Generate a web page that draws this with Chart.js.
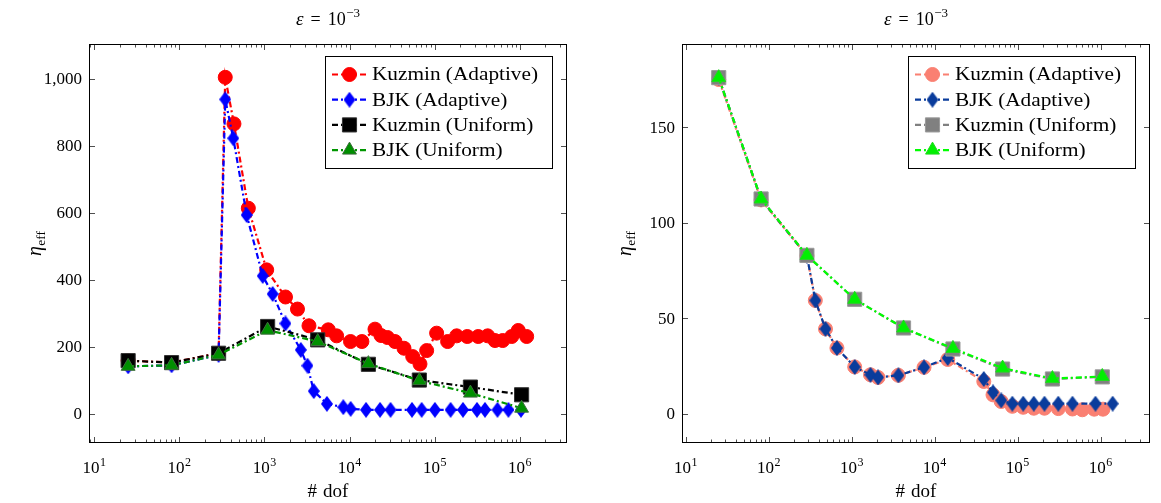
<!DOCTYPE html>
<html>
<head>
<meta charset="utf-8">
<script src="https://cdn.jsdelivr.net/npm/chart.js@4.4.0/dist/chart.umd.min.js"></script>
<style>
  html, body { margin: 0; padding: 0; background: #fff; }
  #wrap { position: relative; width: 1161px; height: 503px; }
  .panel { position: absolute; top: 0; }
  #leftPanel { left: 0; }
  #rightPanel { left: 580px; }
</style>
</head>
<body>
<div id="wrap">
  <div class="panel" id="leftPanel"><canvas id="leftChart" width="580" height="503"></canvas></div>
  <div class="panel" id="rightPanel"><canvas id="rightChart" width="581" height="503"></canvas></div>
</div>
<script>
// --- data ---
const seriesLabels = ['Kuzmin (Adaptive)', 'BJK (Adaptive)', 'Kuzmin (Uniform)', 'BJK (Uniform)'];
const uniformDof = [25, 81, 289, 1089, 4225, 16641, 66049, 263169, 1050625];

// left panel
const leftKuzAdaptDof = [25, 81, 289, 346, 438, 646, 1062, 1766, 2443, 3335, 5623, 7050, 10260, 13960, 19900, 23400,
  27900, 34200, 43600, 55200, 67200, 80500, 105500, 142000, 181500, 241700, 325000, 420000, 512000, 630000, 804000, 960000, 1205000];
const leftKuzAdaptEta = [159, 153, 181, 1005, 866, 614, 430, 349, 313, 263, 251, 233, 216, 216, 253, 234,
  228, 216, 196, 171, 149, 189, 241, 216, 233, 231, 231, 233, 219, 219, 231, 249, 231];
const leftBjkAdaptDof = [25, 81, 289, 346, 430, 618, 953, 1248, 1766, 2673, 3201, 3795, 5420, 8430, 10300, 15600,
  22800, 30300, 54100, 70300, 100700, 154000, 215000, 314000, 390000, 547000, 736000, 1033000];
const leftBjkAdaptEta = [142, 145, 176, 939, 823, 594, 412, 358, 270, 191, 144, 68, 30, 20, 15, 12,
  12, 12, 12, 12, 12, 12, 12, 12, 12, 12, 12, 12];
const leftKuzUnifEta = [159, 153, 181, 261, 221, 148, 101, 80, 57];
const leftBjkUnifEta = [142, 145, 176, 250, 216, 150, 99, 62, 17];

// right panel
const rightKuzAdaptDof = [25, 81, 289, 365, 484, 665, 1089, 1687, 2080, 3660, 7460, 14400,
  39200, 50600, 63500, 86500, 117000, 157000, 211000, 310000, 459000, 603000, 840000, 1070000];
const rightKuzAdaptEta = [175, 112, 82.8, 59.4, 44.5, 34.5, 24.6, 20.5, 19.1, 20.2, 24.4, 28.5,
  17, 10, 6.5, 4, 3.5, 3, 3, 2.8, 2.6, 2.2, 2.5, 2.5];
const rightBjkAdaptDof = [25, 81, 289, 365, 484, 665, 1089, 1687, 2080, 3660, 7460, 14400,
  39200, 50600, 63500, 86500, 117000, 157000, 211000, 310000, 459000, 869000, 1400000];
const rightBjkAdaptEta = [176, 112.4, 82.8, 59.4, 44.5, 34.5, 24.6, 20.5, 19.1, 20.2, 24.4, 29.3,
  18.3, 11.3, 7.1, 5.4, 5.4, 5.4, 5.4, 5.4, 5.4, 5.4, 5.4];
const rightKuzUnifEta = [176, 112.5, 83, 60, 45, 34, 23.5, 18.3, 19.4];
const rightBjkUnifEta = [176, 112.5, 83, 60, 45, 34.3, 24, 18.5, 19.6];

// ticks
const xTickExponents = [1, 2, 3, 4, 5, 6];
const leftYTicks = [0, 200, 400, 600, 800, 1000];
const rightYTicks = [0, 50, 100, 150];

const FONT = '"Liberation Serif", "DejaVu Serif", serif';
const DASH = [6, 3, 2, 3];

function makeDiamond(color, w, h) {
  const c = document.createElement('canvas');
  c.width = w; c.height = h;
  const g = c.getContext('2d');
  g.fillStyle = color;
  g.beginPath();
  g.moveTo(w / 2, 0); g.lineTo(w, h / 2); g.lineTo(w / 2, h); g.lineTo(0, h / 2);
  g.closePath();
  g.fill();
  return c;
}

function series(label, xs, ys, style) {
  return Object.assign({
    label,
    data: xs.map((x, i) => ({ x, y: ys[i] })),
    borderWidth: 2.2,
    borderDash: DASH,
    pointBorderWidth: 1,
    tension: 0,
    fill: false
  }, style);
}

// draws a list of text runs centred on cx
function drawRuns(ctx, runs, cx, y) {
  let total = 0;
  runs.forEach(r => {
    ctx.font = (r.italic ? 'italic ' : '') + r.size + 'px ' + FONT;
    r.w = ctx.measureText(r.t).width;
    total += r.w + (r.gap || 0);
  });
  let x = cx - total / 2;
  ctx.textAlign = 'left';
  ctx.textBaseline = 'alphabetic';
  runs.forEach(r => {
    ctx.font = (r.italic ? 'italic ' : '') + r.size + 'px ' + FONT;
    ctx.fillText(r.t, x + (r.gap || 0), y + (r.dy || 0));
    x += r.w + (r.gap || 0);
  });
}

const axisPlugin = {
  id: 'pgfAxis',
  afterDatasetsDraw(chart, args, opts) {
    const { ctx, chartArea: a, scales: { x, y } } = chart;
    ctx.save();
    ctx.strokeStyle = '#222';
    ctx.lineWidth = 0.8;
    ctx.beginPath();
    const e0 = Math.floor(Math.log10(x.min)), e1 = Math.ceil(Math.log10(x.max));
    for (let e = e0; e <= e1; e++) {
      for (let m = 1; m <= 9; m++) {
        const v = m * Math.pow(10, e);
        if (v < x.min || v > x.max) continue;
        const px = Math.round(x.getPixelForValue(v)) + 0.5;
        const len = m === 1 ? 6 : 3.5;
        ctx.moveTo(px, a.bottom); ctx.lineTo(px, a.bottom - len);
        ctx.moveTo(px, a.top); ctx.lineTo(px, a.top + len);
      }
    }
    opts.yTicks.forEach(v => {
      const py = Math.round(y.getPixelForValue(v)) + 0.5;
      ctx.moveTo(a.left, py); ctx.lineTo(a.left + 6, py);
      ctx.moveTo(a.right, py); ctx.lineTo(a.right - 6, py);
    });
    ctx.stroke();
    ctx.strokeStyle = '#000';
    ctx.lineWidth = 1;
    ctx.strokeRect(a.left + 0.5, a.top + 0.5, a.right - a.left - 1, a.bottom - a.top - 1);

    ctx.fillStyle = '#000';
    // x tick labels
    xTickExponents.forEach(e => {
      const px = x.getPixelForValue(Math.pow(10, e));
      drawRuns(ctx, [{ t: '10', size: 17 }, { t: String(e), size: 12, dy: -7.5, gap: 0.5 }], px, a.bottom + 30);
    });
    // y tick labels
    ctx.font = '17px ' + FONT;
    ctx.textAlign = 'right';
    ctx.textBaseline = 'middle';
    opts.yTicks.forEach(v => {
      ctx.fillText(v.toLocaleString('en-US'), a.left - 7, y.getPixelForValue(v) + 1);
    });
    const cx = (a.left + a.right) / 2;
    // title
    drawRuns(ctx, [
      { t: 'ε', size: 19, italic: true },
      { t: '=', size: 18, gap: 7 },
      { t: '10', size: 18, gap: 7 },
      { t: '−3', size: 13, dy: -8, gap: 0.5 }
    ], cx, 25);
    // x title
    drawRuns(ctx, [{ t: '#', size: 19 }, { t: 'dof', size: 19, gap: 6 }], cx, 497);
    // y title
    ctx.save();
    ctx.translate(opts.yTitleX, (a.top + a.bottom) / 2);
    ctx.rotate(-Math.PI / 2);
    drawRuns(ctx, [{ t: 'η', size: 20, italic: true }, { t: 'eff', size: 13.5, dy: 3.5, gap: 0.5 }], 0, 6);
    ctx.restore();
    ctx.restore();
  },
  afterDraw(chart) {
    const { ctx, chartArea: a } = chart;
    const w = 227, h = 112;
    const left = a.right - 15 - w, top = a.top + 12;
    ctx.save();
    ctx.fillStyle = '#fff';
    ctx.fillRect(left, top, w, h);
    ctx.strokeStyle = '#000';
    ctx.lineWidth = 1;
    ctx.strokeRect(left + 0.5, top + 0.5, w, h);
    ctx.font = '19px ' + FONT;
    const sx = 166 / ctx.measureText(chart.data.datasets[0].label).width;
    chart.data.datasets.forEach((ds, i) => {
      const yy = top + 18.5 + i * 25.2;
      ctx.setLineDash(ds.borderDash);
      ctx.lineWidth = ds.borderWidth;
      ctx.strokeStyle = ds.borderColor;
      ctx.beginPath();
      ctx.moveTo(left + 7, yy); ctx.lineTo(left + 42, yy);
      ctx.stroke();
      ctx.setLineDash([]);
      ctx.fillStyle = ds.pointBackgroundColor;
      ctx.strokeStyle = ds.pointBorderColor;
      ctx.lineWidth = ds.pointBorderWidth;
      if (Chart.helpers && Chart.helpers.drawPoint) {
        Chart.helpers.drawPoint(ctx, {
          pointStyle: ds.pointStyle, radius: ds.pointRadius, rotation: 0, borderWidth: ds.pointBorderWidth
        }, left + 24.5, yy);
      }
      ctx.save();
      ctx.translate(left + 47, yy + 1);
      ctx.scale(sx, 1);
      ctx.fillStyle = '#000';
      ctx.font = '19px ' + FONT;
      ctx.textAlign = 'left';
      ctx.textBaseline = 'middle';
      ctx.fillText(ds.label, 0, 0);
      ctx.restore();
    });
    ctx.restore();
  }
};

function buildChart(id, datasets, opts) {
  return new Chart(document.getElementById(id), {
    type: 'line',
    data: { datasets },
    options: {
      responsive: false,
      animation: false,
      layout: { padding: opts.padding },
      scales: {
        x: { type: 'logarithmic', display: false, min: opts.xMin, max: opts.xMax },
        y: { type: 'linear', display: false, min: opts.yMin, max: opts.yMax }
      },
      plugins: {
        legend: { display: false },
        tooltip: { enabled: false },
        pgfAxis: { yTicks: opts.yTicks, yTitleX: opts.yTitleX }
      }
    },
    plugins: [axisPlugin]
  });
}

const blueDiamond = makeDiamond('#0000ff', 12, 16);
const navyDiamond = makeDiamond('#0a3c9c', 12, 16);

buildChart('leftChart', [
  series(seriesLabels[0], leftKuzAdaptDof, leftKuzAdaptEta, {
    borderColor: '#ff0000', pointBackgroundColor: '#ff0000', pointBorderColor: '#ff0000',
    pointStyle: 'circle', pointRadius: 7, order: 4
  }),
  series(seriesLabels[1], leftBjkAdaptDof, leftBjkAdaptEta, {
    borderColor: '#0000ff', pointBackgroundColor: '#0000ff', pointBorderColor: '#0000ff',
    pointStyle: blueDiamond, pointRadius: 7, order: 3
  }),
  series(seriesLabels[2], uniformDof, leftKuzUnifEta, {
    borderColor: '#000000', pointBackgroundColor: '#000000', pointBorderColor: '#333333',
    pointStyle: 'rect', pointRadius: 10, order: 2
  }),
  series(seriesLabels[3], uniformDof, leftBjkUnifEta, {
    borderColor: '#009600', pointBackgroundColor: '#008f00', pointBorderColor: '#3d6e3d',
    pointStyle: 'triangle', pointRadius: 8, order: 1
  })
], {
  padding: { left: 89, right: 13, top: 44, bottom: 60 },
  xMin: 8.67, xMax: 3.59e6, yMin: -87, yMax: 1104.5,
  yTicks: leftYTicks, yTitleX: 35
});

buildChart('rightChart', [
  series(seriesLabels[0], rightKuzAdaptDof, rightKuzAdaptEta, {
    borderColor: '#fa8072', pointBackgroundColor: '#fa8072', pointBorderColor: '#fa8072',
    pointStyle: 'circle', pointRadius: 7, order: 4
  }),
  series(seriesLabels[1], rightBjkAdaptDof, rightBjkAdaptEta, {
    borderColor: '#0a3c9c', pointBackgroundColor: '#0a3c9c', pointBorderColor: '#0a3c9c',
    pointStyle: navyDiamond, pointRadius: 7, order: 3
  }),
  series(seriesLabels[2], uniformDof, rightKuzUnifEta, {
    borderColor: '#808080', pointBackgroundColor: '#808080', pointBorderColor: '#9a9a9a',
    pointStyle: 'rect', pointRadius: 10, order: 2
  }),
  series(seriesLabels[3], uniformDof, rightBjkUnifEta, {
    borderColor: '#00ff00', pointBackgroundColor: '#00f000', pointBorderColor: '#22d822',
    pointStyle: 'triangle', pointRadius: 8, order: 1
  })
], {
  padding: { left: 102, right: 3, top: 44, bottom: 60 },
  xMin: 9.02, xMax: 3.95e6, yMin: -15.2, yMax: 193.6,
  yTicks: rightYTicks, yTitleX: 45
});
</script>
</body>
</html>
